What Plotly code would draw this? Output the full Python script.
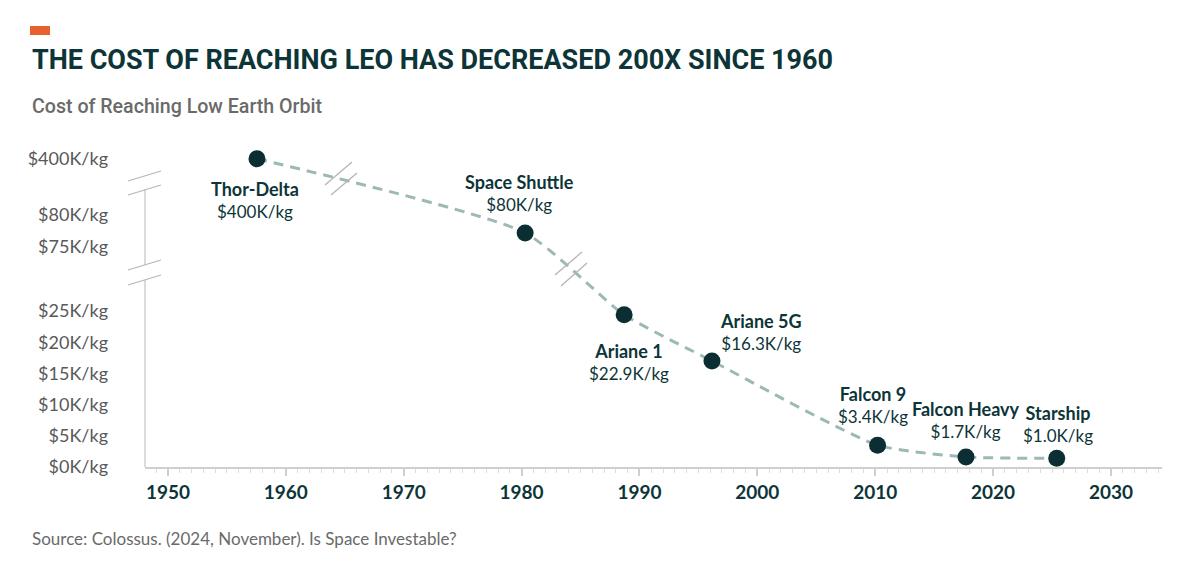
import plotly.graph_objects as go

# ---------------- data ----------------
rockets = ["Thor-Delta", "Space Shuttle", "Ariane 1", "Ariane 5G",
           "Falcon 9", "Falcon Heavy", "Starship"]
years = [1957.55, 1980.3, 1988.7, 1996.15, 2010.2, 2017.7, 2025.4]
cost_k = [400, 77.2, 24.4, 17.0, 3.5, 1.6, 1.4]          # plotted position, $K/kg
cost_labels = ["$400K/kg", "$80K/kg", "$22.9K/kg", "$16.3K/kg",
               "$3.4K/kg", "$1.7K/kg", "$1.0K/kg"]
ytick_values = [0, 5, 10, 15, 20, 25, 75, 80, 400]
ytick_labels = ["$0K/kg", "$5K/kg", "$10K/kg", "$15K/kg", "$20K/kg",
                "$25K/kg", "$75K/kg", "$80K/kg", "$400K/kg"]
xtick_values = [1950, 1960, 1970, 1980, 1990, 2000, 2010, 2020, 2030]

# label offsets (pixels) relative to each point
label_dx = [-2, -6, 5, 49, -5, 0, 1]
label_dy = [-41, 40, -47, 29, 40, 37, 34]


# ---------------- broken-axis scale ----------------
def to_axis(v):
    """Map a $K/kg value onto the broken y axis."""
    if v <= 25:
        return v
    if v <= 80:
        return 35.26 + (v - 75) * 1.024
    return 40.38 + (v - 80) * (49.4 - 40.38) / (400 - 80)


Y_TOP = 54.0
X_RANGE = [1948.05, 2034.33]
L, R, T, B = 145, 34, 130, 105
W, H = 1196, 572
PW, PH = W - L - R, H - T - B

TEAL = "#0d3538"
DOT = "#0b2e33"
LINE = "#9cb9b5"
GREY_TXT = "#595959"
AXIS = "#cfcfcf"
BODY_FONT = "Lato, Roboto, sans-serif"
TITLE_FONT = "Roboto, sans-serif"


def pxx(px):
    return (px - L) / PW


def pxy(py):
    return (H - B - py) / PH


y_pos = [to_axis(v) for v in cost_k]

fig = go.Figure()
fig.add_trace(go.Scatter(
    x=years, y=y_pos, mode="lines",
    line=dict(color=LINE, width=3, dash="10px,7px", shape="spline", smoothing=0.55),
    hoverinfo="skip", showlegend=False))
fig.add_trace(go.Scatter(
    x=years, y=y_pos, mode="markers",
    marker=dict(color=DOT, size=17),
    text=[f"{r}: {c}" for r, c in zip(rockets, cost_labels)],
    hoverinfo="text", showlegend=False))

annotations = []
for x, y, name, lab, dx, dy in zip(years, y_pos, rockets, cost_labels, label_dx, label_dy):
    annotations.append(dict(
        x=x, y=y, xref="x", yref="y", xshift=dx, yshift=dy,
        text=f"<span style='font-size:18px'><b>{name}</b></span><br>{lab}", showarrow=False,
        font=dict(family=BODY_FONT, size=17, color=TEAL),
        align="center", xanchor="center", yanchor="middle"))

# title, subtitle, source
annotations.append(dict(
    x=pxx(30), y=pxy(60), xref="paper", yref="paper", xanchor="left", yanchor="middle",
    text="<b>THE COST OF REACHING LEO HAS DECREASED 200X SINCE 1960</b>",
    showarrow=False, font=dict(family=TITLE_FONT, size=27, color=TEAL)))
annotations.append(dict(
    x=pxx(30), y=pxy(106), xref="paper", yref="paper", xanchor="left", yanchor="middle",
    text="Cost of Reaching Low Earth Orbit",
    showarrow=False, font=dict(family=TITLE_FONT, size=19.6, color="#6a6a6a", weight=500)))
annotations.append(dict(
    x=pxx(30), y=pxy(538), xref="paper", yref="paper", xanchor="left", yanchor="middle",
    text="Source: Colossus. (2024, November). Is Space Investable?",
    showarrow=False, font=dict(family=BODY_FONT, size=17, color="#6a6a6a")))

shapes = []
# orange accent bar
shapes.append(dict(type="rect", xref="paper", yref="paper",
                   x0=pxx(30), x1=pxx(50), y0=pxy(35), y1=pxy(26),
                   fillcolor="#e8612c", line=dict(width=0)))
# y-axis line segments (broken)
for y0, y1 in [(189, 265), (280, 467)]:
    shapes.append(dict(type="line", xref="paper", yref="paper",
                       x0=0, x1=0, y0=pxy(y0), y1=pxy(y1),
                       line=dict(color=AXIS, width=1.5)))
# break marks on the y axis and on the line
breaks = [((128, 181), (161, 171)), ((128, 195), (161, 185)),
          ((128, 270), (161, 260)), ((128, 285), (161, 275)),
          ((325, 185), (352, 162)), ((331, 195), (357, 173)),
          ((555, 275), (582, 252)), ((561, 286), (587, 263))]
for (xa, ya), (xb, yb) in breaks:
    shapes.append(dict(type="line", xref="paper", yref="paper",
                       x0=pxx(xa), y0=pxy(ya), x1=pxx(xb), y1=pxy(yb),
                       line=dict(color="#b5b5b5", width=1.3)))

fig.update_layout(
    width=W, height=H, autosize=False,
    margin=dict(l=L, r=R, t=T, b=B, pad=0),
    plot_bgcolor="white", paper_bgcolor="white",
    annotations=annotations, shapes=shapes,
    xaxis=dict(range=X_RANGE, tickmode="array", tickvals=xtick_values,
               ticks="outside", ticklen=7, tickwidth=1.5, tickcolor=AXIS,
               showline=True, linecolor=AXIS, linewidth=1.5,
               showgrid=False, zeroline=False, ticklabelstandoff=0,
               tickfont=dict(family=BODY_FONT, size=19, color=TEAL, weight="bold"),
               minor=dict(dtick=1, tick0=1950, ticks="outside", ticklen=4,
                          tickcolor="#dcdcdc", tickwidth=1, showgrid=False)),
    yaxis=dict(range=[0, Y_TOP], tickmode="array",
               tickvals=[to_axis(v) for v in ytick_values], ticktext=ytick_labels,
               ticks="", showline=False, showgrid=False, zeroline=False,
               ticklabelstandoff=36,
               tickfont=dict(family=BODY_FONT, size=18, color=GREY_TXT)),
    hovermode="closest",
)

fig.write_html("out.html")
